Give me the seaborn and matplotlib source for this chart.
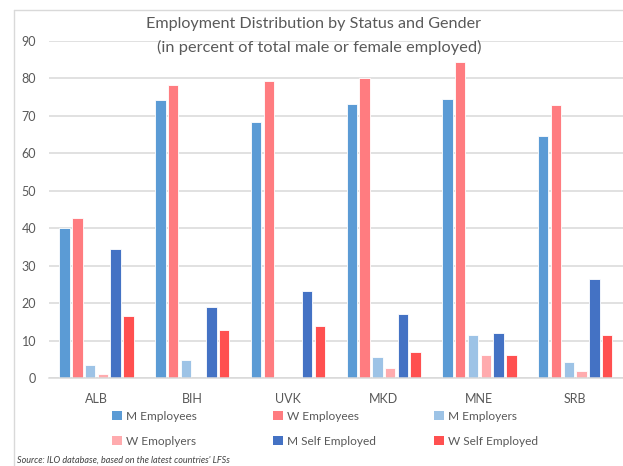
import numpy as np
import pandas as pd
import seaborn as sns
import matplotlib
matplotlib.use("Agg")
import matplotlib.pyplot as plt
from matplotlib.lines import Line2D
from matplotlib.patches import Patch

countries = ["ALB", "BIH", "UVK", "MKD", "MNE", "SRB"]
series = ["M Employees", "W Employees", "M Employers",
          "W Emoplyers", "M Self Employed", "W Self Employed"]

m_employees = [40.0, 74.3, 68.5, 73.2, 74.6, 64.6]
w_employees = [42.6, 78.2, 79.2, 80.1, 84.5, 72.9]
m_employers = [3.5, 4.9, np.nan, 5.5, 11.5, 4.3]
w_employers = [1.1, np.nan, np.nan, 2.8, 6.1, 2.0]
m_self = [34.4, 19.0, 23.3, 17.2, 12.0, 26.4]
w_self = [16.6, 12.7, 13.9, 6.9, 6.1, 11.5]

colors = ["#5B9BD5", "#FF7C80", "#9DC3E6", "#FFABAE", "#4472C4", "#FF5050"]

values = [m_employees, w_employees, m_employers, w_employers, m_self, w_self]
rows = []
for name, vals in zip(series, values):
    for c, v in zip(countries, vals):
        rows.append({"country": c, "status": name, "value": v})
df = pd.DataFrame(rows)

sns.set_theme(style="white")
plt.rcParams["font.family"] = ["Lato", "DejaVu Sans"]

W, H = 623, 466
fig = plt.figure(figsize=(W / 100, H / 100), dpi=100)
ax = fig.add_axes([48.6 / W, (H - 378) / H, (623 - 48.6) / W, (378 - 41) / H])

sns.barplot(data=df, x="country", y="value", hue="status",
            order=countries, hue_order=series, palette=colors,
            width=0.8, gap=0.18, edgecolor="white", linewidth=0.6,
            saturation=1, legend=False, ax=ax)

grid_c = "#D9D9D9"
ax.set_ylim(0, 90)
ax.set_xlim(-0.5, 5.5)
ax.set_yticks(range(0, 91, 10))
ax.yaxis.grid(True, color=grid_c, linewidth=1.1)
ax.set_axisbelow(True)
for s in ["top", "right", "left"]:
    ax.spines[s].set_visible(False)
ax.spines["bottom"].set_color(grid_c)
ax.spines["bottom"].set_linewidth(1.1)
ax.tick_params(axis="both", length=0, colors="#595959", labelsize=9)
ax.tick_params(axis="y", pad=9)
ax.tick_params(axis="x", pad=11)
ax.set_xlabel("")
ax.set_ylabel("")

# chart title (two lines)
fig.text(314 / W, 1 - 24 / H, "Employment Distribution by Status and Gender",
         ha="center", va="center", fontsize=11.6, color="#595959")
fig.text(319 / W, 1 - 47 / H, "(in percent of total male or female employed)",
         ha="center", va="center", fontsize=11.8, color="#595959")

# legend: three evenly spaced columns of two entries each
handles = [Patch(facecolor=c, edgecolor="none") for c in colors]
col_x = [112, 273, 434]
for k, x0 in enumerate(col_x):
    idx = [k, k + 3]
    leg = fig.legend([handles[i] for i in idx], [series[i] for i in idx],
                     ncol=1, loc="upper left",
                     bbox_to_anchor=(x0 / W, 1 - 411 / H), frameon=False,
                     fontsize=8.6, labelcolor="#595959", handlelength=0.8,
                     handleheight=0.8, handletextpad=0.4,
                     labelspacing=1.15, borderaxespad=0, borderpad=0)

# chart area frame (left and top edges)
fig.add_artist(Line2D([14 / W, 14 / W], [0, 1 - 10 / H], transform=fig.transFigure,
                      color=grid_c, linewidth=1))
fig.add_artist(Line2D([14 / W, 1], [1 - 10 / H, 1 - 10 / H], transform=fig.transFigure,
                      color=grid_c, linewidth=1))

fig.text(17 / W, 1 - 456 / H,
         "Source: ILO database, based on the latest countries' LFSs",
         ha="left", va="top", fontsize=6.5, style="italic", color="#404040")

fig.savefig("out.png", dpi=100, facecolor="white")
